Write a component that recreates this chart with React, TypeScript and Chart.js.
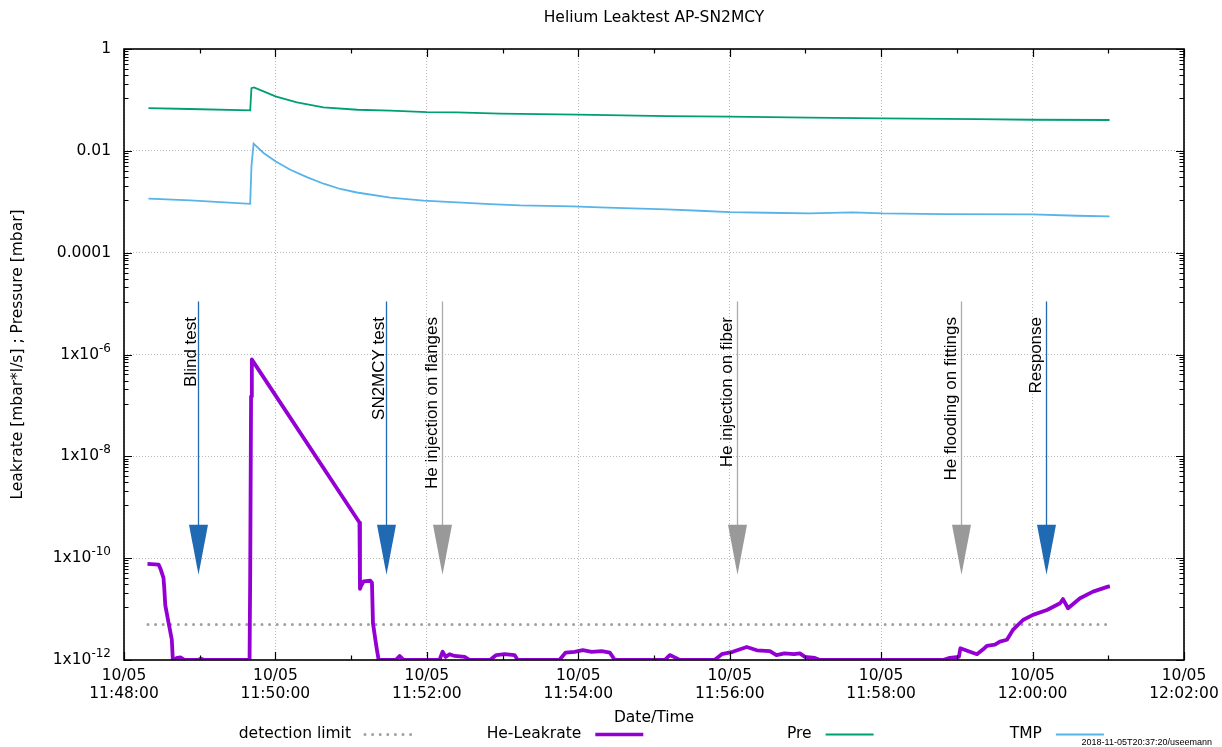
import React, { useEffect, useRef } from 'react';
import { Chart, registerables } from 'chart.js';

Chart.register(...registerables);

const FONT = '"DejaVu Sans", sans-serif';
const ARROW_FONT = '"Liberation Sans", Arial, sans-serif';

const chartTitle = 'Helium Leaktest AP-SN2MCY';
const xAxisTitle = 'Date/Time';
const yAxisTitle = 'Leakrate [mbar*l/s] ; Pressure [mbar]';
const stampText = '2018-11-05T20:37:20/useemann';

// x values: seconds after 10/05 11:48:00
const xMin = 0;
const xMax = 840;
const xTickValues = [0, 120, 240, 360, 480, 600, 720, 840];
const xTickLabels = [
  ['10/05', '11:48:00'],
  ['10/05', '11:50:00'],
  ['10/05', '11:52:00'],
  ['10/05', '11:54:00'],
  ['10/05', '11:56:00'],
  ['10/05', '11:58:00'],
  ['10/05', '12:00:00'],
  ['10/05', '12:02:00'],
];
const xMinorTickValues = [60, 180, 300, 420, 540, 660, 780];

const yMin = 1e-12;
const yMax = 1;
const yTickValues = [1, 1e-2, 1e-4, 1e-6, 1e-8, 1e-10, 1e-12];
const yTickLabels = ['1', '0.01', '0.0001', '1x10^-6', '1x10^-8', '1x10^-10', '1x10^-12'];

const legendLabels = ['detection limit', 'He-Leakrate', 'Pre', 'TMP'];

const detectionTimes = [19, 781];
const detectionValues = [5e-12, 5e-12];

const preTimes = [19.4, 52, 100, 101, 103, 110.6, 120, 137, 158, 185, 211, 240, 264, 298, 360, 430, 480, 543, 601, 676, 720, 781];
const preValues = [0.0693, 0.0663, 0.0622, 0.17, 0.176, 0.147, 0.117, 0.0893, 0.0713, 0.0641, 0.0614, 0.0578, 0.0569, 0.0536, 0.0512, 0.0482, 0.0468, 0.0447, 0.0433, 0.042, 0.0408, 0.0403];

const tmpTimes = [19.4, 52.5, 100, 101, 102.7, 110.6, 120.3, 131.8, 144.9, 158.2, 171.4, 184.6, 211, 237.5, 263.9, 290.3, 314, 355.6, 377, 403, 430, 456, 480, 509, 543, 577.6, 601, 649, 720, 755, 781];
const tmpValues = [1.15e-3, 1.06e-3, 9.1e-4, 5e-3, 0.0138, 9.06e-3, 6.19e-3, 4.26e-3, 3.05e-3, 2.26e-3, 1.78e-3, 1.52e-3, 1.21e-3, 1.05e-3, 9.7e-4, 9.0e-4, 8.45e-4, 8.09e-4, 7.74e-4, 7.4e-4, 7.06e-4, 6.65e-4, 6.27e-4, 6.08e-4, 5.89e-4, 6.17e-4, 5.89e-4, 5.73e-4, 5.63e-4, 5.31e-4, 5.14e-4];

const heTimes = [18.6, 27.4, 29.2, 31.3, 31.9, 32.7, 35.3, 37.9, 38.7, 42, 45, 48, 58, 61, 64, 99.5, 100, 100.7, 101.3, 102, 186.6, 187, 187.7, 189.9, 195.2, 196.5, 197.3, 199.2, 200.4, 201.8, 215.3, 218.4, 221.6, 250, 252.5, 254.9, 258, 262, 270, 274, 290, 295, 301.6, 309.5, 312, 345, 350, 357, 363.6, 370.6, 378.6, 385, 389, 428.5, 432.5, 437.3, 440.4, 468, 473.7, 482.4, 493.5, 501.5, 511.8, 517, 523.4, 531, 535.6, 539.6, 547.5, 551.5, 648.9, 654.4, 661.6, 662.8, 668.7, 675.9, 680.6, 683.8, 690.2, 694.1, 699.7, 704.4, 712.4, 720.3, 731.4, 741.8, 744.1, 748.1, 757.6, 767.9, 779.8, 781.3];
const heValues = [7.7e-11, 7.5e-11, 5.9e-11, 4.1e-11, 2.6e-11, 1.2e-11, 5.4e-12, 2.5e-12, 1e-12, 1.1e-12, 1.12e-12, 1e-12, 1e-12, 1.05e-12, 1e-12, 1e-12, 4.4e-11, 1.5e-7, 8e-7, 7.5e-7, 5e-10, 2.5e-11, 2.8e-11, 3.5e-11, 3.6e-11, 3.3e-11, 5.3e-12, 2.5e-12, 1.6e-12, 1e-12, 1e-12, 1.2e-12, 1e-12, 1e-12, 1.45e-12, 1.15e-12, 1.3e-12, 1.2e-12, 1.15e-12, 1e-12, 1e-12, 1.25e-12, 1.3e-12, 1.25e-12, 1e-12, 1e-12, 1.4e-12, 1.45e-12, 1.57e-12, 1.45e-12, 1.5e-12, 1.4e-12, 1e-12, 1e-12, 1.25e-12, 1.1e-12, 1e-12, 1e-12, 1.3e-12, 1.45e-12, 1.8e-12, 1.55e-12, 1.5e-12, 1.25e-12, 1.35e-12, 1.3e-12, 1.35e-12, 1.15e-12, 1.1e-12, 1e-12, 1e-12, 1.1e-12, 1.15e-12, 1.7e-12, 1.5e-12, 1.3e-12, 1.6e-12, 1.9e-12, 2.0e-12, 2.3e-12, 2.5e-12, 3.9e-12, 6.1e-12, 7.7e-12, 9.6e-12, 1.3e-11, 1.57e-11, 1.04e-11, 1.63e-11, 2.2e-11, 2.76e-11, 2.8e-11];

const arrowLabels = ['Blind test', 'SN2MCY test', 'He injection on flanges', 'He injection on fiber', 'He flooding on fittings', 'Response'];
const arrowTimes = [59, 208, 252, 486, 663, 731];
const arrowKinds = ['blue', 'blue', 'gray', 'gray', 'gray', 'blue'];
const arrowFrom = 1.1e-5;
const arrowTo = 4.7e-11;

const COLORS = {
  detection: '#a0a0a0',
  he: '#9400d3',
  pre: '#009e73',
  tmp: '#56b4e9',
  arrowBlue: '#2069b3',
  arrowGray: '#999999',
};

const toPoints = (t: number[], v: number[]) => t.map((x, i) => ({ x, y: v[i] }));

function drawLabelWithSup(ctx: CanvasRenderingContext2D, label: string, xRight: number, y: number) {
  const parts = label.split('^');
  const base = parts[0];
  const sup = parts[1];
  ctx.textAlign = 'left';
  ctx.textBaseline = 'middle';
  ctx.font = `15.5px ${FONT}`;
  const wb = ctx.measureText(base).width;
  let ws = 0;
  if (sup) {
    ctx.font = `12px ${FONT}`;
    ws = ctx.measureText(sup).width;
  }
  ctx.font = `15.5px ${FONT}`;
  ctx.fillText(base, xRight - wb - ws, y);
  if (sup) {
    ctx.font = `12px ${FONT}`;
    ctx.fillText(sup, xRight - ws, y - 6);
  }
}

const decorPlugin = {
  id: 'gnuplotDecor',
  afterDatasetsDraw(chart: any) {
    const { ctx, chartArea: a, scales } = chart;
    const xs = scales.x;
    const ys = scales.y;
    ctx.save();

    // arrows with labels
    arrowTimes.forEach((t, i) => {
      const x = Math.round(xs.getPixelForValue(t)) + 0.5;
      const y0 = ys.getPixelForValue(arrowFrom);
      const y1 = ys.getPixelForValue(arrowTo);
      const headLen = 50;
      const headHalf = 9.5;
      const col = arrowKinds[i] === 'blue' ? COLORS.arrowBlue : COLORS.arrowGray;
      ctx.strokeStyle = arrowKinds[i] === 'blue' ? COLORS.arrowBlue : '#aaaaaa';
      ctx.lineWidth = 1.3;
      ctx.setLineDash([]);
      ctx.beginPath();
      ctx.moveTo(x, y0);
      ctx.lineTo(x, y1 - headLen + 2);
      ctx.stroke();
      ctx.fillStyle = col;
      ctx.beginPath();
      ctx.moveTo(x - headHalf, y1 - headLen);
      ctx.lineTo(x + headHalf, y1 - headLen);
      ctx.lineTo(x, y1);
      ctx.closePath();
      ctx.fill();

      const label = arrowLabels[i];
      ctx.save();
      ctx.font = `17px ${ARROW_FONT}`;
      const m = ctx.measureText(label);
      ctx.translate(x - 3, y0 + 15.5);
      ctx.rotate(-Math.PI / 2);
      ctx.fillStyle = '#000';
      ctx.textAlign = 'right';
      ctx.textBaseline = 'alphabetic';
      ctx.fillText(label, 0, -(m.actualBoundingBoxDescent || 0));
      ctx.restore();
    });

    // tick marks (inward, mirrored on all sides)
    ctx.strokeStyle = '#000';
    ctx.lineWidth = 1.2;
    ctx.setLineDash([]);
    const major = 8;
    const minor = 4.5;
    ctx.beginPath();
    xTickValues.forEach((v) => {
      const x = Math.round(xs.getPixelForValue(v)) + 0.5;
      ctx.moveTo(x, a.bottom); ctx.lineTo(x, a.bottom - major);
      ctx.moveTo(x, a.top); ctx.lineTo(x, a.top + major);
    });
    xMinorTickValues.forEach((v) => {
      const x = Math.round(xs.getPixelForValue(v)) + 0.5;
      ctx.moveTo(x, a.bottom); ctx.lineTo(x, a.bottom - minor);
      ctx.moveTo(x, a.top); ctx.lineTo(x, a.top + minor);
    });
    yTickValues.forEach((v, i) => {
      const y = Math.round(ys.getPixelForValue(v)) + 0.5;
      ctx.moveTo(a.left, y); ctx.lineTo(a.left + major, y);
      ctx.moveTo(a.right, y); ctx.lineTo(a.right - major, y);
      if (i > 0) {
        const lo = v;
        const hi = yTickValues[i - 1];
        for (let k = 1; k <= 9; k++) {
          const mv = lo + (k * (hi - lo)) / 10;
          const my = Math.round(ys.getPixelForValue(mv)) + 0.5;
          ctx.moveTo(a.left, my); ctx.lineTo(a.left + minor, my);
          ctx.moveTo(a.right, my); ctx.lineTo(a.right - minor, my);
        }
      }
    });
    ctx.stroke();

    // frame
    ctx.lineWidth = 1.6;
    ctx.strokeRect(a.left, a.top, a.right - a.left, a.bottom - a.top);
    ctx.restore();
  },
  afterDraw(chart: any) {
    const { ctx, chartArea: a, scales } = chart;
    const ys = scales.y;
    const cx = (a.left + a.right) / 2;
    ctx.save();
    ctx.fillStyle = '#000';

    // y tick labels
    yTickValues.forEach((v, i) => {
      drawLabelWithSup(ctx, yTickLabels[i], a.left - 13, ys.getPixelForValue(v));
    });

    ctx.font = `15.5px ${FONT}`;
    ctx.textAlign = 'center';
    ctx.textBaseline = 'middle';
    ctx.fillText(chartTitle, cx, 18);
    ctx.fillText(xAxisTitle, cx, a.bottom + 58);

    ctx.save();
    ctx.translate(18, (a.top + a.bottom) / 2);
    ctx.rotate(-Math.PI / 2);
    ctx.fillText(yAxisTitle, 0, 0);
    ctx.restore();

    // legend
    const styles = [
      { color: COLORS.detection, width: 3, dash: [0, 7.6], cap: 'round' },
      { color: COLORS.he, width: 3.5, dash: [], cap: 'butt' },
      { color: COLORS.pre, width: 1.8, dash: [], cap: 'butt' },
      { color: COLORS.tmp, width: 1.8, dash: [], cap: 'butt' },
    ];
    const ly = a.bottom + 74;
    legendLabels.forEach((lab, i) => {
      const right = 351 + i * 230.3;
      ctx.font = `15.5px ${FONT}`;
      ctx.textAlign = 'right';
      ctx.textBaseline = 'middle';
      ctx.fillStyle = '#000';
      ctx.fillText(lab, right, ly);
      const s = styles[i];
      ctx.strokeStyle = s.color;
      ctx.lineWidth = s.width;
      ctx.lineCap = s.cap;
      ctx.setLineDash(s.dash);
      ctx.beginPath();
      ctx.moveTo(right + 14, ly + 0.5);
      ctx.lineTo(right + 62, ly + 0.5);
      ctx.stroke();
    });
    ctx.setLineDash([]);
    ctx.lineCap = 'butt';

    ctx.font = `9px ${ARROW_FONT}`;
    ctx.textAlign = 'right';
    ctx.textBaseline = 'middle';
    ctx.fillStyle = '#000';
    ctx.fillText(stampText, 1212, 743);
    ctx.restore();
  },
};

export default function App() {
  const ref = useRef<HTMLCanvasElement>(null);
  useEffect(() => {
    const canvas = ref.current;
    if (!canvas) return;
    const chart = new Chart(canvas, {
      type: 'line',
      data: {
        datasets: [
          {
            label: legendLabels[3],
            data: toPoints(tmpTimes, tmpValues),
            borderColor: COLORS.tmp,
            borderWidth: 1.8,
            pointRadius: 0,
            tension: 0,
            order: 1,
          },
          {
            label: legendLabels[2],
            data: toPoints(preTimes, preValues),
            borderColor: COLORS.pre,
            borderWidth: 1.8,
            pointRadius: 0,
            tension: 0,
            order: 2,
          },
          {
            label: legendLabels[1],
            data: toPoints(heTimes, heValues),
            borderColor: COLORS.he,
            borderWidth: 3.8,
            borderJoinStyle: 'round',
            pointRadius: 0,
            tension: 0,
            order: 3,
          },
          {
            label: legendLabels[0],
            data: toPoints(detectionTimes, detectionValues),
            borderColor: COLORS.detection,
            borderWidth: 3,
            borderDash: [0, 7.6],
            borderCapStyle: 'round',
            pointRadius: 0,
            tension: 0,
            order: 4,
          },
        ],
      },
      options: {
        animation: false,
        responsive: true,
        maintainAspectRatio: false,
        devicePixelRatio: 1,
        layout: { padding: { left: 0, top: 49, right: 38, bottom: 0 } },
        plugins: {
          legend: { display: false },
          title: { display: false },
          tooltip: { enabled: false },
        },
        scales: {
          x: {
            type: 'linear',
            min: xMin,
            max: xMax,
            afterBuildTicks: (scale: any) => {
              scale.ticks = xTickValues.map((v) => ({ value: v }));
            },
            afterFit: (scale: any) => {
              scale.height = 87;
              scale.paddingLeft = 0;
              scale.paddingRight = 0;
            },
            ticks: {
              autoSkip: false,
              maxRotation: 0,
              minRotation: 0,
              padding: 7,
              color: '#000',
              font: { family: FONT, size: 15.5, lineHeight: 1.18 },
              callback: (_v: any, i: number) => xTickLabels[i],
            },
            grid: { color: '#b8b8b8', lineWidth: 1, drawTicks: false },
            border: { display: false, dash: [1, 2] },
          },
          y: {
            type: 'logarithmic',
            min: yMin,
            max: yMax,
            afterBuildTicks: (scale: any) => {
              scale.ticks = yTickValues.map((v) => ({ value: v }));
            },
            afterFit: (scale: any) => {
              scale.width = 124;
              scale.paddingTop = 0;
              scale.paddingBottom = 0;
            },
            ticks: { display: false },
            grid: { color: '#b8b8b8', lineWidth: 1, drawTicks: false },
            border: { display: false, dash: [1, 2] },
          },
        },
      },
      plugins: [decorPlugin],
    } as any);
    return () => chart.destroy();
  }, []);
  return (
    <div style={{ position: 'absolute', left: 0, top: 0, width: 1222, height: 747, background: '#fff' }}>
      <canvas ref={ref} />
    </div>
  );
}
